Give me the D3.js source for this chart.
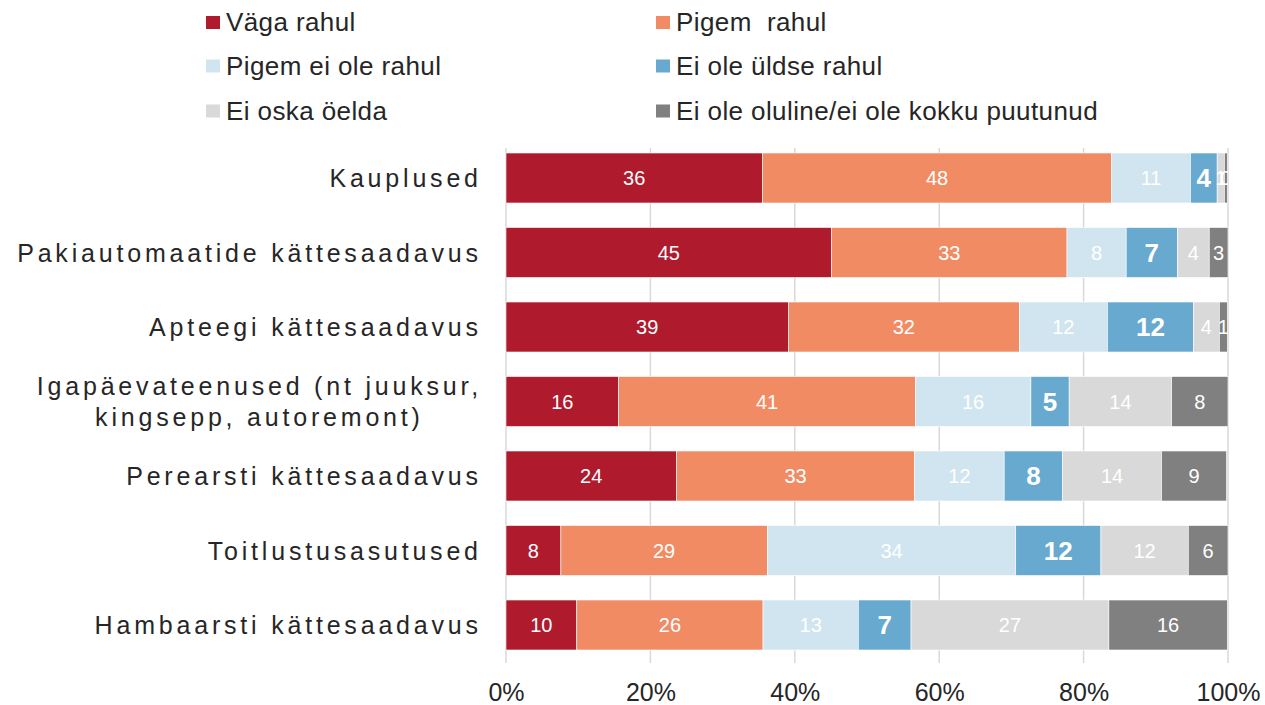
<!DOCTYPE html>
<html><head><meta charset="utf-8">
<script src="https://cdn.jsdelivr.net/npm/d3@7"></script>
<style>body{margin:0;background:#fff} svg{display:block}</style>
</head><body><svg id="c" width="1265" height="705"></svg>
<script>
const categories = ["Kauplused","Pakiautomaatide kättesaadavus","Apteegi kättesaadavus","Igapäevateenused (nt juuksur,\nkingsepp, autoremont)","Perearsti kättesaadavus","Toitlustusasutused","Hambaarsti kättesaadavus"];
const seriesNames = ["Väga rahul","Pigem  rahul","Pigem ei ole rahul","Ei ole üldse rahul","Ei oska öelda","Ei ole oluline/ei ole kokku puutunud"];
const seriesColors = ["#AF1A2D","#F08B63","#D1E5F0","#67A9CF","#D9D9D9","#808080"];
const vagaRahul    = [35.5,45.1,39.1,15.6,23.6,7.6,9.8];
const pigemRahul   = [48.4,32.6,32.0,41.1,33.0,28.6,25.8];
const pigemEiOle   = [10.9,8.2,12.2,16.0,12.4,34.4,13.2];
const eiOleYldse   = [3.7,7.1,11.9,5.3,8.1,11.8,7.3];
const eiOska       = [1.0,4.4,3.6,14.2,13.7,12.1,27.4];
const eiOleOluline = [0.4,2.6,1.1,7.8,9.0,5.5,16.4];
const tickValues = [0,20,40,60,80,100];

const seriesValues = [vagaRahul,pigemRahul,pigemEiOle,eiOleYldse,eiOska,eiOleOluline];
const keys = seriesNames.map((d,i)=>"s"+i);
const table = categories.map((c,ci)=>{
  const row = {cat:c};
  keys.forEach((k,si)=>row[k]=seriesValues[si][ci]);
  return row;
});
const stacked = d3.stack().keys(keys)(table);

const svg = d3.select("#c");
const x = d3.scaleLinear().domain([0,100]).range([506,1228]);
const y = d3.scaleBand().domain(categories).range([140.75,662.25]).paddingInner(0.329).paddingOuter(0.1645);

// gridlines
svg.append("g").selectAll("line").data(tickValues).join("line")
  .attr("x1",d=>x(d)).attr("x2",d=>x(d)).attr("y1",148).attr("y2",663)
  .attr("stroke","#D9D9D9").attr("stroke-width",1.5);

// bars
const gs = svg.append("g").selectAll("g").data(stacked).join("g")
  .attr("fill",(d,i)=>seriesColors[i]);
gs.selectAll("rect").data(d=>d).join("rect")
  .attr("x",d=>x(d[0])).attr("width",d=>x(d[1])-x(d[0]))
  .attr("y",d=>y(d.data.cat)).attr("height",y.bandwidth())
  .attr("stroke","#fff").attr("stroke-width",0.6);

// value labels
svg.append("clipPath").attr("id","plotclip").append("rect")
  .attr("x",x(0)).attr("y",0).attr("width",x(100)-x(0)).attr("height",705);
const lg = svg.append("g").attr("clip-path","url(#plotclip)");
stacked.forEach((s,si)=>{
  lg.append("g").selectAll("text").data(s).join("text")
    .attr("x",d=>(x(d[0])+x(d[1]))/2)
    .attr("y",d=>y(d.data.cat)+y.bandwidth()/2)
    .attr("dy","0.36em")
    .attr("text-anchor","middle")
    .attr("fill","#fff")
    .attr("font-family","Liberation Sans, Arial, sans-serif")
    .attr("font-size", si===3 ? 26 : 20)
    .attr("font-weight", si===3 ? "bold" : "normal")
    .text(d=>Math.round(d[1]-d[0]));
});

// category labels
const cg = svg.append("g").attr("font-family","Liberation Sans, Arial, sans-serif")
  .attr("font-size",25).attr("fill","#262626").style("letter-spacing","3.8px");
categories.forEach(c=>{
  const lines = c.split("\n");
  const cy = y(c)+y.bandwidth()/2;
  if(lines.length===1){
    cg.append("text").attr("x",481.8).attr("y",cy+9).attr("text-anchor","end").text(c);
  } else {
    lines.forEach((l,li)=>{
      cg.append("text").attr("x",259.4).attr("y",cy+9+(li-0.5)*31).attr("text-anchor","middle").text(l);
    });
  }
});

// x axis tick labels
const ax = svg.append("g").attr("transform","translate(0,701)")
  .call(d3.axisBottom(x).tickValues(tickValues).tickFormat(d=>d+"%").tickSize(0).tickPadding(0));
ax.select(".domain").remove();
ax.selectAll("text").attr("font-family","Liberation Sans, Arial, sans-serif").attr("font-size",25)
  .attr("fill","#262626").attr("dy","0");

// legend
const legX = [206,656], legY = [22.5,66,111];
const leg = svg.append("g").attr("font-family","Liberation Sans, Arial, sans-serif").attr("font-size",26)
  .attr("fill","#262626").style("letter-spacing","0.4px");
seriesNames.forEach((n,i)=>{
  const lx = legX[i%2], ly = legY[Math.floor(i/2)];
  leg.append("rect").attr("x",lx).attr("y",ly-6.5).attr("width",14).attr("height",13).attr("fill",seriesColors[i]);
  leg.append("text").attr("x",lx+20).attr("y",ly+8.5).style("white-space","pre").text(n);
});
</script></body></html>
